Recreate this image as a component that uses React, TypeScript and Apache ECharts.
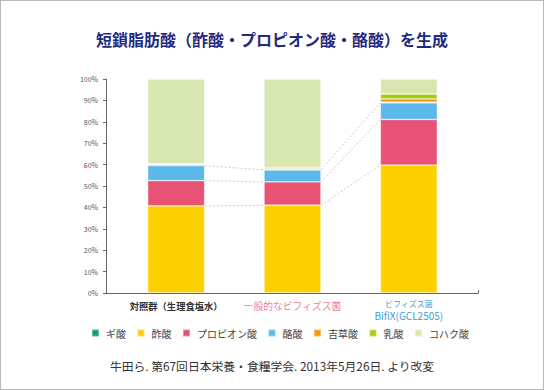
import React, { useEffect, useRef } from "react";
import * as echarts from "echarts";

const categories = ["対照群（生理食塩水）", "一般的なビフィズス菌", "ビフィズス菌\nBifiX(GCL2505)"];
const seriesNames = ["ギ酸", "酢酸", "プロピオン酸", "酪酸", "吉草酸", "乳酸", "コハク酸"];
const formicAcid = [0.5, 0.1, 0.3];
const aceticAcid = [40.7, 41.0, 59.8];
const propionicAcid = [11.8, 10.9, 21.3];
const butyricAcid = [7.0, 5.6, 7.8];
const valericAcid = [0.1, 0.5, 1.5];
const lacticAcid = [0.3, 0.6, 2.3];
const succinicAcid = [39.6, 41.3, 7.0];
const yTicks = [0, 10, 20, 30, 40, 50, 60, 70, 80, 90, 100];

const COLORS: Record<string, string> = {
  ギ酸: "#0f9b7d",
  酢酸: "#fdd000",
  プロピオン酸: "#e85375",
  酪酸: "#5cb8e9",
  吉草酸: "#f39a0b",
  乳酸: "#a8cc12",
  コハク酸: "#d8e6b1",
};

const FONT = '"Noto Sans CJK JP", "Noto Sans", sans-serif';
const BAR_WIDTH = 57;

export default function App() {
  const ref = useRef<HTMLDivElement>(null);
  useEffect(() => {
    document.body.style.margin = "0";
    if (!ref.current) return;
    const chart = echarts.init(ref.current, undefined, { renderer: "svg" });

    const stackOrder: [string, number[]][] = [
      ["酢酸", aceticAcid],
      ["プロピオン酸", propionicAcid],
      ["酪酸", butyricAcid],
      ["ギ酸", formicAcid],
      ["吉草酸", valericAcid],
      ["乳酸", lacticAcid],
      ["コハク酸", succinicAcid],
    ];

    const cumYellow = aceticAcid.map((v) => v);
    const cumRed = aceticAcid.map((v, i) => v + propionicAcid[i]);
    const cumBlue = aceticAcid.map((v, i) => v + propionicAcid[i] + butyricAcid[i]);
    const connectors: number[][] = [];
    for (let i = 0; i < categories.length - 1; i++) {
      [cumYellow, cumRed, cumBlue].forEach((arr) => connectors.push([i, arr[i], arr[i + 1]]));
    }

    const barSeries = stackOrder.map(([name, data]) => ({
      name,
      type: "bar",
      stack: "total",
      xAxisIndex: 0,
      yAxisIndex: 0,
      barWidth: BAR_WIDTH,
      data,
      itemStyle: {
        color: COLORS[name],
        borderColor: "rgba(255,255,255,0.35)",
        borderWidth: 0.8,
      },
      emphasis: { disabled: true },
    }));

    chart.setOption({
      animation: false,
      backgroundColor: "#ffffff",
      title: [
        {
          text: "短鎖脂肪酸（酢酸・プロピオン酸・酪酸）を生成",
          left: "center",
          top: 26,
          textStyle: { fontFamily: FONT, fontSize: 16, fontWeight: "bold", color: "#1f2b80" },
        },
        {
          text: "牛田ら. 第67回日本栄養・食糧学会. 2013年5月26日. より改変",
          left: "center",
          top: 355,
          textStyle: { fontFamily: FONT, fontSize: 11.8, fontWeight: "normal", color: "#333" },
        },
      ],
      legend: {
        data: seriesNames,
        left: 86,
        top: 323,
        itemWidth: 7,
        itemHeight: 7,
        itemGap: 10.5,
        icon: "rect",
        textStyle: { fontFamily: FONT, fontSize: 10, color: "#444", padding: [0, 0, 0, 2] },
      },
      grid: [
        { left: 118, right: 77, top: 79, bottom: 97 },
        { left: 106, right: 66, top: 79, bottom: 97 },
      ],
      xAxis: [
        {
          type: "category",
          gridIndex: 0,
          data: categories,
          axisLine: { show: false },
          axisTick: { show: false },
          axisLabel: {
            margin: 5,
            interval: 0,
            formatter: (v: string, idx: number) => {
              if (idx === 0) return `{a|${v}}`;
              if (idx === 1) return `{b|${v}}`;
              const parts = v.split("\n");
              return `{c|${parts[0]}}\n{d|${parts[1]}}`;
            },
            rich: {
              a: { fontFamily: FONT, fontSize: 9.3, fontWeight: "bold", color: "#333", lineHeight: 15 },
              b: { fontFamily: FONT, fontSize: 9.8, color: "#ea7f9f", lineHeight: 15 },
              c: { fontFamily: FONT, fontSize: 8, color: "#3a9fd8", lineHeight: 11 },
              d: { fontFamily: FONT, fontSize: 10, color: "#3a9fd8", lineHeight: 12 },
            },
          },
        },
        {
          type: "value",
          gridIndex: 1,
          min: 0,
          max: 1,
          interval: 1,
          axisLine: { show: true, lineStyle: { color: "#666", width: 1 } },
          axisTick: { show: true, inside: true, length: 3, lineStyle: { color: "#666" } },
          axisLabel: { show: false },
          splitLine: { show: false },
        },
      ],
      yAxis: [
        {
          type: "value",
          gridIndex: 0,
          min: 0,
          max: 100,
          interval: 10,
          show: false,
        },
        {
          type: "value",
          gridIndex: 1,
          min: 0,
          max: 100,
          interval: 10,
          axisLine: { show: true, lineStyle: { color: "#666", width: 1 } },
          axisTick: { show: true, length: 3, lineStyle: { color: "#666" } },
          axisLabel: {
            margin: 8,
            fontFamily: FONT,
            fontSize: 7,
            color: "#555",
            formatter: (v: number) => (yTicks.includes(v) ? `${v}%` : ""),
          },
          splitLine: { show: false },
        },
      ],
      series: [
        ...barSeries,
        {
          type: "custom",
          xAxisIndex: 0,
          yAxisIndex: 0,
          z: 5,
          silent: true,
          data: connectors,
          renderItem: (_params: any, api: any) => {
            const i = api.value(0);
            const p1 = api.coord([i, api.value(1)]);
            const p2 = api.coord([i + 1, api.value(2)]);
            return {
              type: "line",
              shape: {
                x1: p1[0] + BAR_WIDTH / 2,
                y1: p1[1],
                x2: p2[0] - BAR_WIDTH / 2,
                y2: p2[1],
              },
              style: { stroke: "#bdbdbd", lineWidth: 0.8, lineDash: [2, 2], fill: null },
            };
          },
        },
      ],
    });
    return () => chart.dispose();
  }, []);

  return (
    <div style={{ position: "relative", width: 544, height: 390 }}>
      <div ref={ref} style={{ position: "absolute", left: 0, top: 0, width: 544, height: 390 }} />
      <div
        style={{
          position: "absolute",
          left: 0,
          top: 0,
          width: 544,
          height: 390,
          boxSizing: "border-box",
          border: "1px solid #b8b8b8",
          pointerEvents: "none",
        }}
      />
    </div>
  );
}
